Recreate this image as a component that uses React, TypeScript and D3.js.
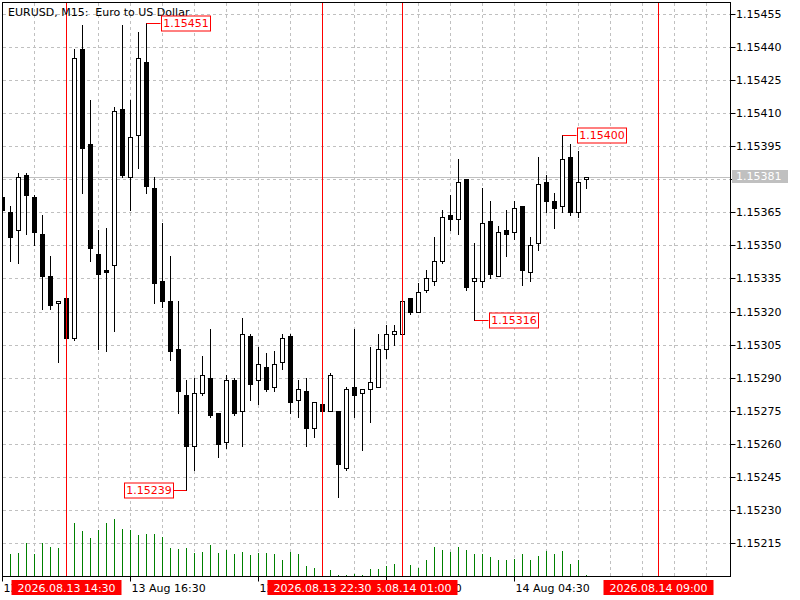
import React, { useEffect, useRef } from "react";
import * as d3 from "d3";

const chartTitle = "EURUSD, M15:  Euro to US Dollar";
const firstBar = new Date(2026, 7, 13, 12, 30);

const opens = [
    1.15372, 1.15365, 1.15357, 1.15382, 1.15372, 1.15355, 1.15336, 1.15324, 1.15326, 1.15308,
    1.15439, 1.15396, 1.15346, 1.15339, 1.15341, 1.15412, 1.15381, 1.154, 1.15433, 1.15376,
    1.15334, 1.15325, 1.15303, 1.15282, 1.15259, 1.15283, 1.1529, 1.15274, 1.15261, 1.15289,
    1.15275, 1.15309, 1.15289, 1.15295, 1.15286, 1.15297, 1.15309, 1.1528, 1.15284, 1.15267,
    1.15278, 1.15275, 1.15275, 1.15249, 1.15286, 1.15283, 1.15285, 1.15286, 1.15303, 1.1531,
    1.1531, 1.15326, 1.1532, 1.1533, 1.15334, 1.15343, 1.15364, 1.15362, 1.1538, 1.15334,
    1.15334, 1.15361, 1.15336, 1.15357, 1.15356, 1.15368, 1.15338, 1.15351, 1.15379, 1.1537,
    1.15368, 1.1539, 1.15365, 1.1538,
];
const highs = [
    1.15375, 1.15368, 1.15383, 1.15383, 1.15373, 1.15364, 1.15345, 1.15325, 1.15327, 1.15439,
    1.1545, 1.15416, 1.15357, 1.15358, 1.15413, 1.1545, 1.15416, 1.15447, 1.15451, 1.15381,
    1.1536, 1.15345, 1.15325, 1.15289, 1.1529, 1.153, 1.15312, 1.15274, 1.15291, 1.1529,
    1.15317, 1.1531, 1.15304, 1.15301, 1.15302, 1.1531, 1.1531, 1.15289, 1.1529, 1.15279,
    1.15278, 1.15292, 1.15275, 1.15286, 1.15312, 1.15285, 1.15304, 1.1531, 1.15314, 1.15314,
    1.15325, 1.15326, 1.15333, 1.15339, 1.15354, 1.15366, 1.15373, 1.15389, 1.1538, 1.15351,
    1.15376, 1.1537, 1.15359, 1.15366, 1.1537, 1.15368, 1.15354, 1.1539, 1.15382, 1.15374,
    1.154, 1.15396, 1.15393, 1.15381,
];
const lows = [
    1.15362, 1.15343, 1.15342, 1.15355, 1.1535, 1.15321, 1.15321, 1.15297, 1.15307, 1.15307,
    1.15374, 1.15343, 1.15303, 1.15302, 1.15311, 1.15381, 1.15366, 1.15385, 1.15374, 1.15324,
    1.15322, 1.15298, 1.15274, 1.15239, 1.15248, 1.15282, 1.15272, 1.15254, 1.15258, 1.15273,
    1.15259, 1.1528, 1.15278, 1.15284, 1.15284, 1.15294, 1.15274, 1.15272, 1.15259, 1.15263,
    1.15275, 1.15275, 1.15236, 1.15248, 1.15272, 1.15257, 1.1527, 1.15286, 1.15299, 1.15305,
    1.1531, 1.15319, 1.1532, 1.15329, 1.15332, 1.15342, 1.15357, 1.15355, 1.1533, 1.15316,
    1.15331, 1.15335, 1.15336, 1.15345, 1.15353, 1.15332, 1.15334, 1.15348, 1.15365, 1.15358,
    1.15365, 1.15364, 1.15363, 1.15376,
];
const closes = [
    1.15366, 1.15354, 1.15381, 1.15373, 1.15356, 1.15336, 1.15323, 1.15325, 1.15308, 1.15435,
    1.15394, 1.15349, 1.15337, 1.15338, 1.15411, 1.15382, 1.15399, 1.15435, 1.15377, 1.15333,
    1.15325, 1.15302, 1.15284, 1.15259, 1.15283, 1.15291, 1.15273, 1.1526, 1.15289, 1.15274,
    1.1531, 1.15287, 1.15296, 1.15285, 1.15296, 1.15308, 1.15279, 1.15285, 1.15267, 1.15279,
    1.15275, 1.15291, 1.15251, 1.15285, 1.15282, 1.15285, 1.15288, 1.15303, 1.1531, 1.15311,
    1.15325, 1.1532, 1.15329, 1.15335, 1.15343, 1.15363, 1.15362, 1.15379, 1.15331, 1.15335,
    1.1536, 1.15337, 1.15356, 1.15355, 1.15367, 1.15339, 1.1535, 1.15378, 1.1537, 1.15367,
    1.15389, 1.15365, 1.15379, 1.15381,
];
const volumes = [
    210, 220, 233, 330, 220, 330, 290, 280, 300, 530,
    450, 380, 460, 530, 570, 470, 460, 410, 420, 420,
    390, 280, 270, 280, 230, 240, 310, 230, 260, 220,
    240, 210, 230, 230, 220, 160, 240, 220, 100, 80,
    50, 60, 10, 10, 20, 10, 70, 70, 100, 120,
    120, 110, 80, 160, 290, 260, 240, 290, 260, 220,
    220, 190, 160, 160, 170, 220, 160, 200, 250, 220,
    250, 120, 160, 10,
];

const priceTicks = [
    1.15215, 1.1523, 1.15245, 1.1526, 1.15275, 1.1529, 1.15305, 1.1532, 1.15335,
    1.1535, 1.15365, 1.1538, 1.15395, 1.1541, 1.15425, 1.1544, 1.15455,
];
const timeTicks = [
    new Date(2026, 7, 13, 12, 30),
    new Date(2026, 7, 13, 16, 30),
    new Date(2026, 7, 13, 20, 30),
    new Date(2026, 7, 14, 0, 30),
    new Date(2026, 7, 14, 4, 30),
];
// vertical marker lines; drawn in this order so the 22:30 label sits over the 01:00 one
const markerTimes = [
    new Date(2026, 7, 13, 14, 30),
    new Date(2026, 7, 14, 1, 0),
    new Date(2026, 7, 13, 22, 30),
    new Date(2026, 7, 14, 9, 0),
];
const extremeBars = [18, 23, 59, 70];
const extremePrices = [1.15451, 1.15239, 1.15316, 1.154];
const extremeSides = ["right", "left", "right", "right"];
const lastPrice = 1.15381;

const App: React.FC = () => {
    const svgRef = useRef<SVGSVGElement>(null);

    useEffect(() => {
        const svgElement = svgRef.current;
        if (!svgElement) return;

        const width = 800;
        const height = 600;
        const plot = { left: 2.5, top: 2.5, right: 730.5, bottom: 576.5 };

        d3.select(svgElement).selectAll("*").remove();

        const svg = d3
            .select(svgElement)
            .attr("width", width)
            .attr("height", height)
            .style("font-family", "'DejaVu Sans', sans-serif")
            .style("font-size", "11px");

        const barTimes = opens.map((_, i) => d3.timeMinute.offset(firstBar, 15 * i));

        // 8px per M15 bar
        const x = d3
            .scaleTime()
            .domain([firstBar, d3.timeMinute.offset(firstBar, 15)])
            .range([2.5, 10.5]);
        const y = d3
            .scaleLinear()
            .domain([priceTicks[0], priceTicks[priceTicks.length - 1]])
            .range([543, 14]);
        const yVol = d3
            .scaleLinear()
            .domain([0, d3.max(volumes) as number])
            .range([576, 519]);
        const py = (p: number) => Math.round(y(p)) + 0.5;

        svg.append("rect").attr("width", width).attr("height", height).attr("fill", "#ffffff");

        svg.append("defs")
            .append("clipPath")
            .attr("id", "plot-clip")
            .append("rect")
            .attr("x", 3)
            .attr("y", 3)
            .attr("width", plot.right - 3)
            .attr("height", plot.bottom - 3);

        // Grid
        const grid = svg
            .append("g")
            .attr("stroke", "#c0c0c0")
            .attr("stroke-dasharray", "3,3")
            .attr("shape-rendering", "crispEdges");
        grid.selectAll("line.h")
            .data(priceTicks)
            .join("line")
            .attr("x1", plot.left)
            .attr("x2", plot.right)
            .attr("y1", (d) => py(d))
            .attr("y2", (d) => py(d));
        const hourLines = d3.range(0, 24).map((k) => d3.timeHour.offset(firstBar, k)).filter((t) => x(t) < plot.right);
        grid.selectAll("line.v")
            .data(hourLines)
            .join("line")
            .attr("x1", (d) => x(d))
            .attr("x2", (d) => x(d))
            .attr("y1", plot.top)
            .attr("y2", plot.bottom);

        const body = svg.append("g").attr("clip-path", "url(#plot-clip)");

        // Current price line
        body.append("line")
            .attr("x1", plot.left)
            .attr("x2", plot.right)
            .attr("y1", py(lastPrice))
            .attr("y2", py(lastPrice))
            .attr("stroke", "#c0c0c0");

        // Volumes
        body.append("g")
            .attr("stroke", "#008000")
            .selectAll("line")
            .data(volumes)
            .join("line")
            .attr("x1", (_, i) => x(barTimes[i]))
            .attr("x2", (_, i) => x(barTimes[i]))
            .attr("y1", plot.bottom - 0.5)
            .attr("y2", (d) => Math.round(yVol(d)));

        // Candles
        const candles = body
            .append("g")
            .selectAll("g")
            .data(opens)
            .join("g");
        candles
            .append("line")
            .attr("x1", (_, i) => x(barTimes[i]))
            .attr("x2", (_, i) => x(barTimes[i]))
            .attr("y1", (_, i) => py(highs[i]) - 0.5)
            .attr("y2", (_, i) => py(lows[i]) + 0.5)
            .attr("stroke", "#000000");
        candles
            .append("rect")
            .attr("x", (_, i) => x(barTimes[i]) - 2)
            .attr("width", 4)
            .attr("y", (o, i) => py(Math.max(o, closes[i])))
            .attr("height", (o, i) => py(Math.min(o, closes[i])) - py(Math.max(o, closes[i])))
            .attr("fill", (o, i) => (closes[i] > o ? "#ffffff" : "#000000"))
            .attr("stroke", "#000000");

        // Vertical marker lines
        svg.append("g")
            .attr("stroke", "#ff0000")
            .selectAll("line")
            .data(markerTimes)
            .join("line")
            .attr("x1", (d) => x(d))
            .attr("x2", (d) => x(d))
            .attr("y1", plot.top)
            .attr("y2", plot.bottom);

        // Title (keeps the double space)
        svg.append("text")
            .attr("x", 8)
            .attr("y", 16)
            .attr("fill", "#000000")
            .attr("xml:space", "preserve")
            .style("white-space", "pre")
            .text(chartTitle);

        // High / low labels
        const fmt = (p: number) => p.toFixed(5);
        extremeBars.forEach((bar, k) => {
            const cx = x(barTimes[bar]);
            const cy = py(extremePrices[k]);
            const boxW = 49;
            const edge = extremeSides[k] === "right" ? cx + 14 : cx - 14;
            const boxX = extremeSides[k] === "right" ? Math.round(edge) + 0.5 : Math.round(edge - boxW) + 0.5;
            svg.append("line")
                .attr("x1", cx)
                .attr("x2", edge)
                .attr("y1", cy)
                .attr("y2", cy)
                .attr("stroke", "#ff0000");
            svg.append("rect")
                .attr("x", boxX)
                .attr("y", cy - 7.5)
                .attr("width", boxW)
                .attr("height", 15)
                .attr("fill", "#ffffff")
                .attr("stroke", "#ff0000");
            svg.append("text")
                .attr("x", boxX + boxW / 2)
                .attr("y", cy)
                .attr("dy", "0.36em")
                .attr("text-anchor", "middle")
                .attr("fill", "#ff0000")
                .text(fmt(extremePrices[k]));
        });

        // Frame
        svg.append("rect")
            .attr("x", plot.left)
            .attr("y", plot.top)
            .attr("width", plot.right - plot.left)
            .attr("height", plot.bottom - plot.top)
            .attr("fill", "none")
            .attr("stroke", "#000000");

        // Price axis
        const pAxis = svg.append("g");
        pAxis.selectAll("line")
            .data(priceTicks)
            .join("line")
            .attr("x1", plot.right)
            .attr("x2", plot.right + 5)
            .attr("y1", (d) => py(d))
            .attr("y2", (d) => py(d))
            .attr("stroke", "#000000");
        pAxis.selectAll("text")
            .data(priceTicks)
            .join("text")
            .attr("x", 736)
            .attr("y", (d) => py(d))
            .attr("dy", "0.36em")
            .attr("fill", "#000000")
            .text((d) => fmt(d));

        // Last price tag
        svg.append("rect")
            .attr("x", 732)
            .attr("y", py(lastPrice) - 7.5)
            .attr("width", 56)
            .attr("height", 13)
            .attr("fill", "#c0c0c0");
        svg.append("text")
            .attr("x", 736)
            .attr("y", py(lastPrice) - 1)
            .attr("dy", "0.36em")
            .attr("fill", "#ffffff")
            .text(fmt(lastPrice));

        // Time axis
        const tAxis = svg.append("g");
        tAxis.selectAll("line")
            .data(timeTicks)
            .join("line")
            .attr("x1", (d) => x(d))
            .attr("x2", (d) => x(d))
            .attr("y1", plot.bottom)
            .attr("y2", plot.bottom + 5)
            .attr("stroke", "#000000");
        tAxis.selectAll("text")
            .data(timeTicks)
            .join("text")
            .attr("x", (d) => x(d) + 1)
            .attr("y", 592)
            .attr("fill", "#000000")
            .text((d) => d3.timeFormat("%d %b %H:%M")(d));

        // Marker time tags
        const tags = svg.append("g").selectAll("g").data(markerTimes).join("g");
        tags.append("rect")
            .attr("x", (d) => x(d) - 55)
            .attr("y", 580)
            .attr("width", 110)
            .attr("height", 15)
            .attr("fill", "#ff0000");
        tags.append("text")
            .attr("x", (d) => x(d))
            .attr("y", 592)
            .attr("text-anchor", "middle")
            .attr("fill", "#ffffff")
            .text((d) => d3.timeFormat("%Y.%m.%d %H:%M")(d));
    }, []);

    return <svg ref={svgRef} style={{ position: "absolute", left: 0, top: 0 }}></svg>;
};

export default App;
